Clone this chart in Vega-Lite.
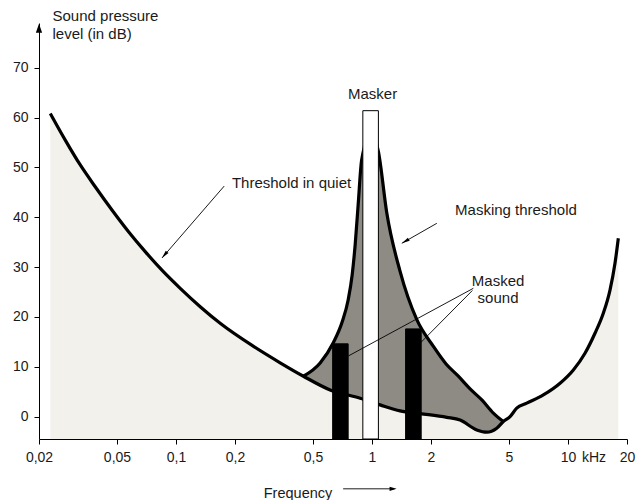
{
  "$schema": "https://vega.github.io/schema/vega-lite/v6.json",
  "width": 588,
  "height": 416,
  "autosize": {"type": "none"},
  "padding": {"left": 39, "top": 23, "right": 9, "bottom": 61},
  "background": "white",
  "config": {"view": {"stroke": null}, "font": "Liberation Sans"},
  "datasets": {
    "quiet": [
      {"f": 0.02284, "db": 60.85},
      {"f": 0.02723, "db": 55.5},
      {"f": 0.03248, "db": 50.5},
      {"f": 0.03872, "db": 46.13},
      {"f": 0.04713, "db": 41.46},
      {"f": 0.05727, "db": 37.1},
      {"f": 0.06966, "db": 33.1},
      {"f": 0.08477, "db": 29.4},
      {"f": 0.1051, "db": 25.75},
      {"f": 0.1329, "db": 22.06},
      {"f": 0.168, "db": 18.73},
      {"f": 0.2485, "db": 14.1},
      {"f": 0.34, "db": 10.8},
      {"f": 0.447, "db": 8.1},
      {"f": 0.6115, "db": 5.35},
      {"f": 0.87, "db": 3.69},
      {"f": 1.1, "db": 2.35},
      {"f": 1.391, "db": 1.15},
      {"f": 1.76, "db": 0.6},
      {"f": 2.408, "db": -0.15},
      {"f": 2.815, "db": -0.7},
      {"f": 3.424, "db": -2.67},
      {"f": 3.851, "db": -3.13},
      {"f": 4.33, "db": -2.33},
      {"f": 4.679, "db": -1.0},
      {"f": 5.063, "db": 0.0},
      {"f": 5.475, "db": 1.68},
      {"f": 6.159, "db": 2.69},
      {"f": 7.484, "db": 4.35},
      {"f": 9.107, "db": 6.7},
      {"f": 10.65, "db": 9.37},
      {"f": 12.21, "db": 12.72},
      {"f": 13.73, "db": 16.73},
      {"f": 15.14, "db": 20.74},
      {"f": 16.38, "db": 25.4},
      {"f": 17.37, "db": 30.77},
      {"f": 18.06, "db": 35.78}
    ],
    "mask": [
      {"f": 0.447, "db": 8.1},
      {"f": 0.5438, "db": 10.77},
      {"f": 0.6336, "db": 14.78},
      {"f": 0.7041, "db": 18.99},
      {"f": 0.7557, "db": 23.4},
      {"f": 0.7921, "db": 28.42},
      {"f": 0.8204, "db": 34.44},
      {"f": 0.8497, "db": 42.46},
      {"f": 0.8855, "db": 51.5},
      {"f": 0.99, "db": 57},
      {"f": 1.078, "db": 53.2},
      {"f": 1.19, "db": 40.85},
      {"f": 1.391, "db": 29.14},
      {"f": 1.693, "db": 19.45},
      {"f": 2.057, "db": 14.1},
      {"f": 2.388, "db": 10.57},
      {"f": 2.75, "db": 8.16},
      {"f": 3.166, "db": 5.56},
      {"f": 3.644, "db": 3.3},
      {"f": 4.161, "db": 0.7},
      {"f": 4.679, "db": -1.0}
    ],
    "bars": [
      {"kind": "masker", "f": 0.898, "f2": 1.078, "db": 61.4},
      {"kind": "masked", "f": 0.63, "f2": 0.7557, "db": 14.6},
      {"kind": "masked", "f": 1.484, "f2": 1.782, "db": 17.6}
    ],
    "lines": [
      {"f": 0.1762, "db": 46.27, "f2": 0.0848, "db2": 31.83},
      {"f": 2.141, "db": 38.79, "f2": 1.419, "db2": 34.78},
      {"f": 3.29, "db": 25.75, "f2": 0.758, "db2": 12.17},
      {"f": 3.252, "db": 25.31, "f2": 1.76, "db2": 14.72},
      {"f": 0.7124, "db": -14.5, "f2": 1.3, "db2": -14.5}
    ],
    "head1": [{"f": 0.0874, "db": 32.45}],
    "head2": [{"f": 1.479, "db": 35.18}],
    "head3": [{"f": 1.281, "db": -14.5}],
    "head4": [{"f": 0.02, "db": 77.96}],
    "notesLeft": [
      {"t": "Threshold in quiet", "f": 0.1929, "db": 45.87},
      {"t": "Masking threshold", "f": 2.654, "db": 40.45}
    ],
    "notesCenter": [
      {"t": "Masker", "f": 1.0074, "db": 63.66},
      {"t": "Masked", "f": 4.397, "db": 26.2},
      {"t": "sound", "f": 4.397, "db": 22.8}
    ],
    "unit": [{"t": "kHz", "f": 13.57, "db": -9.03}]
  },
  "encoding": {
    "x": {
      "field": "f",
      "type": "quantitative",
      "scale": {"type": "log", "domain": [0.02, 20], "nice": false},
      "axis": {
        "values": [0.02, 0.05, 0.1, 0.2, 0.5, 1, 2, 5, 10, 20],
        "labelExpr": "replace(toString(datum.value), '.', ',')",
        "grid": false,
        "domainColor": "#000000",
        "domainWidth": 1,
        "tickColor": "#000000",
        "tickSize": 5,
        "labelPadding": 6,
        "labelFontSize": 14,
        "labelColor": "#1a1a1a",
        "labelFlush": false,
        "labelOverlap": false,
        "title": "Frequency",
        "titleFontSize": 14.5,
        "titleFontWeight": "normal",
        "titleColor": "#1a1a1a",
        "titleX": 258.5,
        "titleY": 58,
        "titleAlign": "center",
        "titleBaseline": "alphabetic"
      }
    },
    "y": {
      "field": "db",
      "type": "quantitative",
      "scale": {"domain": [-4.5, 79], "zero": false, "nice": false},
      "axis": {
        "values": [0, 10, 20, 30, 40, 50, 60, 70],
        "grid": false,
        "domainColor": "#000000",
        "domainWidth": 1,
        "tickColor": "#000000",
        "tickSize": 5,
        "labelPadding": 6,
        "labelFontSize": 14,
        "labelColor": "#1a1a1a",
        "labelFlush": false,
        "title": ["Sound pressure", "level (in dB)"],
        "titleAngle": 0,
        "titleAlign": "left",
        "titleBaseline": "alphabetic",
        "titleX": 13,
        "titleY": -2.3,
        "titleFontSize": 15,
        "titleFontWeight": "normal",
        "titleColor": "#1a1a1a",
        "titleLineHeight": 17.6
      }
    }
  },
  "layer": [
    {
      "data": {"name": "mask"},
      "mark": {"type": "area", "color": "#8e8b85", "interpolate": "monotone"},
      "encoding": {"y2": {"datum": -4.5}}
    },
    {
      "data": {"name": "quiet"},
      "mark": {"type": "area", "color": "#f2f1ec", "interpolate": "monotone"},
      "encoding": {"y2": {"datum": -4.5}}
    },
    {
      "data": {"name": "quiet"},
      "mark": {"type": "line", "color": "#000000", "strokeWidth": 3.2, "interpolate": "monotone"},
      "encoding": {}
    },
    {
      "data": {"name": "mask"},
      "mark": {"type": "line", "color": "#000000", "strokeWidth": 3.2, "interpolate": "monotone"},
      "encoding": {}
    },
    {
      "data": {"name": "bars"},
      "mark": {"type": "rect", "stroke": "#000000", "strokeWidth": 1},
      "encoding": {
        "x2": {"field": "f2"},
        "y2": {"datum": -4.5},
        "fill": {"field": "kind", "type": "nominal", "scale": {"domain": ["masker", "masked"], "range": ["#ffffff", "#000000"]}, "legend": null}
      }
    },
    {
      "data": {"name": "lines"},
      "mark": {"type": "rule", "color": "#000000", "strokeWidth": 0.9},
      "encoding": {"x2": {"field": "f2"}, "y2": {"field": "db2"}}
    },
    {
      "data": {"name": "head1"},
      "mark": {"type": "point", "shape": "M0,-1L0.45,1L-0.45,1Z", "filled": true, "color": "#000000", "opacity": 1, "size": 64, "angle": 220}
    },
    {
      "data": {"name": "head2"},
      "mark": {"type": "point", "shape": "M0,-1L0.45,1L-0.45,1Z", "filled": true, "color": "#000000", "opacity": 1, "size": 64, "angle": 240}
    },
    {
      "data": {"name": "head3"},
      "mark": {"type": "point", "shape": "M0,-1L0.6,1L-0.6,1Z", "filled": true, "color": "#000000", "opacity": 1, "size": 49, "angle": 90}
    },
    {
      "data": {"name": "head4"},
      "mark": {"type": "point", "shape": "M0,-1L0.7,1L-0.7,1Z", "filled": true, "color": "#000000", "opacity": 1, "size": 81, "angle": 0}
    },
    {
      "data": {"name": "notesLeft"},
      "mark": {"type": "text", "align": "left", "baseline": "alphabetic", "fontSize": 15, "color": "#1a1a1a"},
      "encoding": {"text": {"field": "t"}}
    },
    {
      "data": {"name": "notesCenter"},
      "mark": {"type": "text", "align": "center", "baseline": "alphabetic", "fontSize": 15, "color": "#1a1a1a"},
      "encoding": {"text": {"field": "t"}}
    },
    {
      "data": {"name": "unit"},
      "mark": {"type": "text", "align": "center", "baseline": "alphabetic", "fontSize": 14, "color": "#1a1a1a"},
      "encoding": {"text": {"field": "t"}}
    }
  ]
}
